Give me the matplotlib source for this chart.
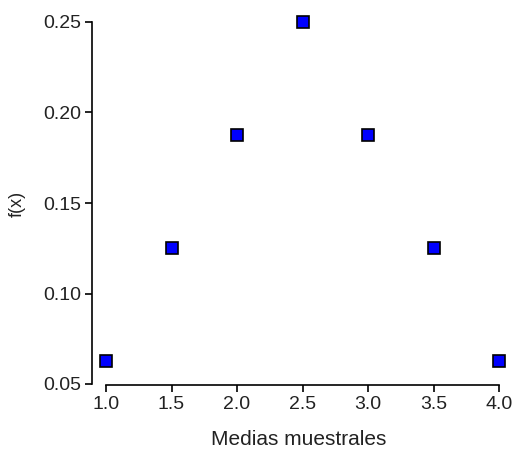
import numpy as np
import matplotlib.pyplot as plt

plt.rcParams['font.family'] = ['Liberation Sans', 'DejaVu Sans']

# sample means and their probabilities
medias = [1.0, 1.5, 2.0, 2.5, 3.0, 3.5, 4.0]
fx = [0.0625, 0.125, 0.1875, 0.25, 0.1875, 0.125, 0.0625]
xticks = [1.0, 1.5, 2.0, 2.5, 3.0, 3.5, 4.0]
yticks = [0.05, 0.10, 0.15, 0.20, 0.25]

W, H = 515, 453
fig = plt.figure(figsize=(W / 100, H / 100), dpi=100)
left, right, top, bottom = 92, 505, 22, 385
ax = fig.add_axes([left / W, 1 - bottom / H, (right - left) / W, (bottom - top) / H])

ax.plot(medias, fx, linestyle='none', marker='s', markersize=8.5,
        markerfacecolor='#0000ff', markeredgecolor='black', markeredgewidth=1.2,
        clip_on=False)

px = 0.5 / 65.5
ax.set_xlim(1.0 - 14 * px, 4.0 + 6 * px)
py = 0.05 / 90.5
ax.set_ylim(0.05 - 1 * py, 0.25)

for s in ['top', 'right']:
    ax.spines[s].set_visible(False)
ax.spines['left'].set_bounds(0.05, 0.25)
ax.spines['bottom'].set_bounds(1.0, 4.0)
ax.spines['left'].set_linewidth(1.2)
ax.spines['bottom'].set_linewidth(1.2)

ax.set_xticks(xticks)
ax.set_xticklabels([f'{v:.1f}' for v in xticks])
ax.set_yticks(yticks)
ax.set_yticklabels([f'{v:.2f}' for v in yticks])
ax.tick_params(direction='out', length=5, width=1.2, labelsize=14, pad=3,
               labelcolor='#222222')

ax.set_xlabel('Medias muestrales', fontsize=15, labelpad=12, color='#222222')
ax.set_ylabel('f(x)', fontsize=13, labelpad=12, color='#222222')

fig.savefig('out.png', dpi=100)
